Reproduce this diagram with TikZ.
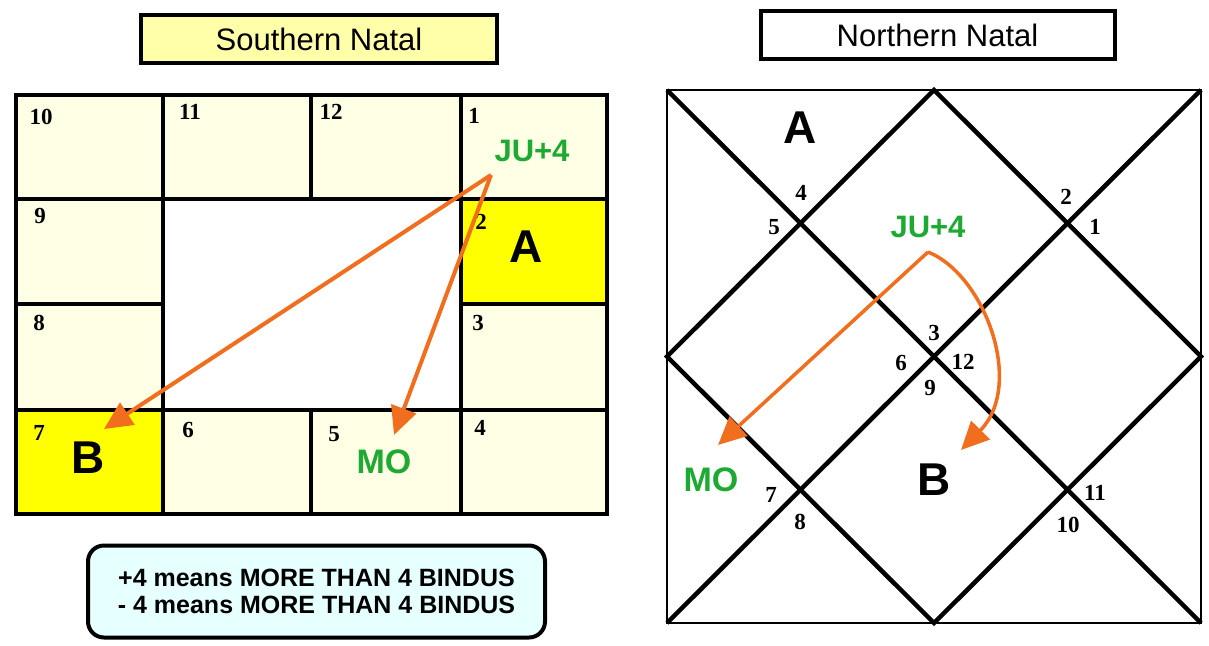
\documentclass[tikz,border=0pt]{standalone}
\usepackage{fontspec}
\setmainfont{Liberation Sans}
\newfontfamily\numfont{Liberation Serif}
\usetikzlibrary{arrows.meta}
\definecolor{cellfill}{RGB}{255,255,230}
\definecolor{titlefill}{RGB}{255,255,170}
\definecolor{hiyellow}{RGB}{255,255,0}
\definecolor{legendfill}{RGB}{230,255,255}
\definecolor{arrorange}{RGB}{240,110,30}
\definecolor{planetgreen}{RGB}{30,170,50}
\begin{document}
\begin{tikzpicture}[x=1pt,y=-1pt,
  num/.style={font=\numfont\bfseries\fontsize{23}{23}\selectfont, inner sep=0pt},
  big/.style={font=\bfseries\fontsize{46}{46}\selectfont, inner sep=0pt},
  planet/.style={font=\bfseries\fontsize{31}{31}\selectfont, text=planetgreen, inner sep=0pt},
  planetmo/.style={font=\bfseries\fontsize{34}{34}\selectfont, text=planetgreen, inner sep=0pt},
  gridline/.style={line width=4.5pt},
  thinline/.style={line width=2pt},
  orangearrow/.style={draw=arrorange, line width=4pt, -{Triangle[length=28pt,width=26pt]}},
  titlebox/.style={draw, line width=4pt, minimum height=48pt, inner sep=0pt,
                   font=\fontsize{31}{31}\selectfont},
  legendbox/.style={draw, line width=4pt, fill=legendfill, rounded corners=16pt,
                    minimum width=457pt, minimum height=92pt, align=center,
                    font=\bfseries\fontsize{25}{27}\selectfont}
]
\useasboundingbox (0,0) rectangle (1209,645);
\fill[white] (0,0) rectangle (1209,645);

% ---------------- Southern chart ----------------
\node[titlebox, fill=titlefill, minimum width=356pt] (stitle) at (319,39) {Southern Natal};

\fill[cellfill] (16,95) rectangle (607,514);
\fill[white] (163,199) rectangle (461,410);
\fill[hiyellow] (461,199) rectangle (607,304);
\fill[hiyellow] (16,410) rectangle (163,514);

\draw[gridline] (16,95) rectangle (607,514);
\draw[gridline] (163,95) -- (163,514);
\draw[gridline] (311,95) -- (311,199);
\draw[gridline] (311,410) -- (311,514);
\draw[gridline] (461,95) -- (461,514);
\draw[gridline] (16,199) -- (607,199);
\draw[gridline] (16,304) -- (163,304);
\draw[gridline] (461,304) -- (607,304);
\draw[gridline] (16,410) -- (607,410);

\node[num] (s10) at (41,117) {10};
\node[num] (s11) at (190,112) {11};
\node[num] (s12) at (331,112) {12};
\node[num] (s1) at (474,116) {1};
\node[num] (s9) at (40,216) {9};
\node[num] (s2) at (481,222) {2};
\node[num] (s8) at (39,323) {8};
\node[num] (s3) at (478,323) {3};
\node[num] (s7) at (39,433) {7};
\node[num] (s6) at (188,430) {6};
\node[num] (s5) at (334,434) {5};
\node[num] (s4) at (480,428) {4};

\node[planet] (sju) at (532,151) {JU+4};
\node[big] (sA) at (526,247) {A};
\node[big] (sB) at (88,458) {B};
\node[planetmo] (smo) at (384,462) {MO};

\coordinate (sjuend) at (491,175);
\coordinate (sbtip) at (104,429);
\coordinate (smotip) at (394,435);
\draw[orangearrow] (sjuend) -- (sbtip);
\draw[orangearrow] (sjuend) -- (smotip);

\node[legendbox] (legend) at (316.5,591.5) {+4 means MORE THAN 4 BINDUS\\- 4 means MORE THAN 4 BINDUS};

% ---------------- Northern chart ----------------
\node[titlebox, fill=white, minimum width=354pt] (ntitle) at (937.5,35) {Northern Natal};

\coordinate (tl) at (667,90);
\coordinate (tr) at (1201,90);
\coordinate (bl) at (667,623);
\coordinate (br) at (1201,623);
\coordinate (tm) at (934,90);
\coordinate (rm) at (1201,356.5);
\coordinate (bm) at (934,623);
\coordinate (lm) at (667,356.5);

\draw[gridline] (tl) -- (br);
\draw[gridline] (tr) -- (bl);
\draw[gridline] (tm) -- (rm) -- (bm) -- (lm) -- cycle;
\draw[thinline] (tl) rectangle (br);

\node[num] (n4) at (801,193) {4};
\node[num] (n5) at (774,227) {5};
\node[num] (n2) at (1066,197) {2};
\node[num] (n1) at (1095,227) {1};
\node[num] (n3) at (934,333) {3};
\node[num] (n6) at (901,363) {6};
\node[num] (n12) at (963,362) {12};
\node[num] (n9) at (930,388) {9};
\node[num] (n7) at (771,495) {7};
\node[num] (n8) at (800,522) {8};
\node[num] (n11) at (1095,493) {11};
\node[num] (n10) at (1068,525) {10};

\node[big] (nA) at (800,128) {A};
\node[big] (nB) at (934,480) {B};
\node[planet] (nju) at (928,227) {JU+4};
\node[planetmo] (nmo) at (711,480) {MO};

\coordinate (njuend) at (928,252);
\coordinate (nmotip) at (718,445);
\coordinate (nbtip) at (961,450);
\draw[orangearrow, line width=3.5pt] (njuend) -- (nmotip);
\draw[orangearrow, line width=3.5pt] (njuend) .. controls (985,275) and (1025,385) .. (nbtip);
\end{tikzpicture}
\end{document}
